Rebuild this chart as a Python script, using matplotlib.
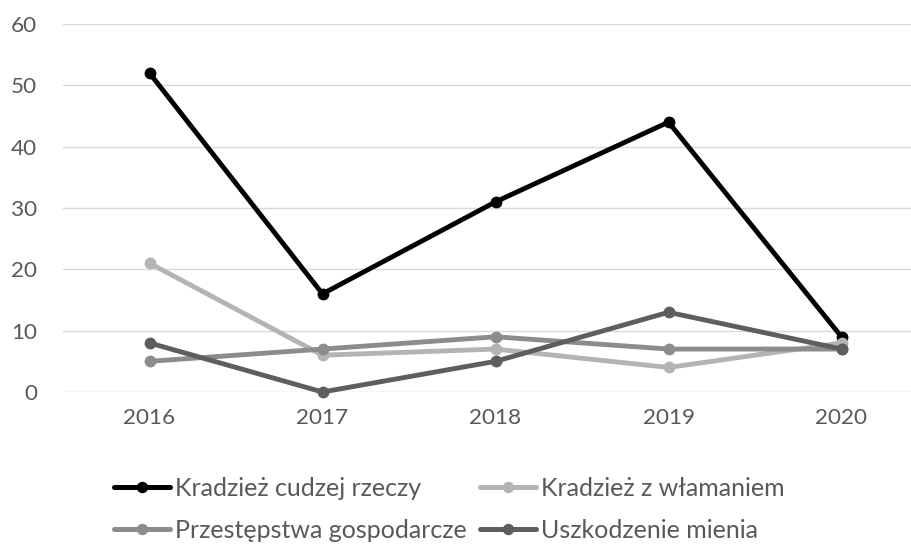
import matplotlib
matplotlib.use("Agg")
import matplotlib.pyplot as plt

years = ["2016", "2017", "2018", "2019", "2020"]
kradziez_cudzej = [52, 16, 31, 44, 9]
kradziez_wlamanie = [21, 6, 7, 4, 8]
przestepstwa_gosp = [5, 7, 9, 7, 7]
uszkodzenie = [8, 0, 5, 13, 7]

series = [
    ("Kradzież cudzej rzeczy", kradziez_cudzej, "#000000"),
    ("Kradzież z włamaniem", kradziez_wlamanie, "#b4b4b4"),
    ("Przestępstwa gospodarcze", przestepstwa_gosp, "#8c8c8c"),
    ("Uszkodzenie mienia", uszkodzenie, "#5e5e5e"),
]

plt.rcParams['font.family'] = ['Lato', 'DejaVu Sans']
txt = "#595959"

fig = plt.figure(figsize=(9.12, 5.45), dpi=100)
W, H = 912, 545
left, right, top, bottom = 63, 928, 24, 392
ax = fig.add_axes([left / W, 1 - bottom / H, (right - left) / W, (bottom - top) / H])

x = list(range(len(years)))
handles = {}
for name, vals, col in series:
    h, = ax.plot(x, vals, color=col, lw=3.5, marker='o', ms=7.5,
                 solid_capstyle='round', label=name, clip_on=False, zorder=3)
    handles[name] = h

ax.set_xlim(-0.5, len(years) - 0.5)
ax.set_ylim(0, 60)
ax.set_yticks(range(0, 61, 10))
ax.set_xticks(x)
ax.set_xticklabels(years)
ax.grid(axis='y', color='#d9d9d9', lw=1.0, zorder=0)
for s in ax.spines.values():
    s.set_visible(False)
ax.tick_params(axis='both', length=0, labelsize=16.2, colors=txt)
ax.tick_params(axis='y', pad=18.7)
ax.tick_params(axis='x', pad=11.5)

fs = 18
common = dict(loc='upper left', frameon=False, fontsize=fs, handlelength=2.24,
              handletextpad=0.2, labelspacing=0.75, borderaxespad=0, borderpad=0)
col1 = ["Kradzież cudzej rzeczy", "Przestępstwa gospodarcze"]
col2 = ["Kradzież z włamaniem", "Uszkodzenie mienia"]
leg1 = fig.legend([handles[n] for n in col1], col1,
                  bbox_to_anchor=(114 / W, 1 - 477 / H), **common)
leg2 = fig.legend([handles[n] for n in col2], col2,
                  bbox_to_anchor=(480 / W, 1 - 477 / H), **common)
for leg in (leg1, leg2):
    for t in leg.get_texts():
        t.set_color(txt)
    for l in leg.get_lines():
        l.set_linewidth(3.6)
        l.set_markersize(7.2)

fig.savefig("out.png", dpi=100)
